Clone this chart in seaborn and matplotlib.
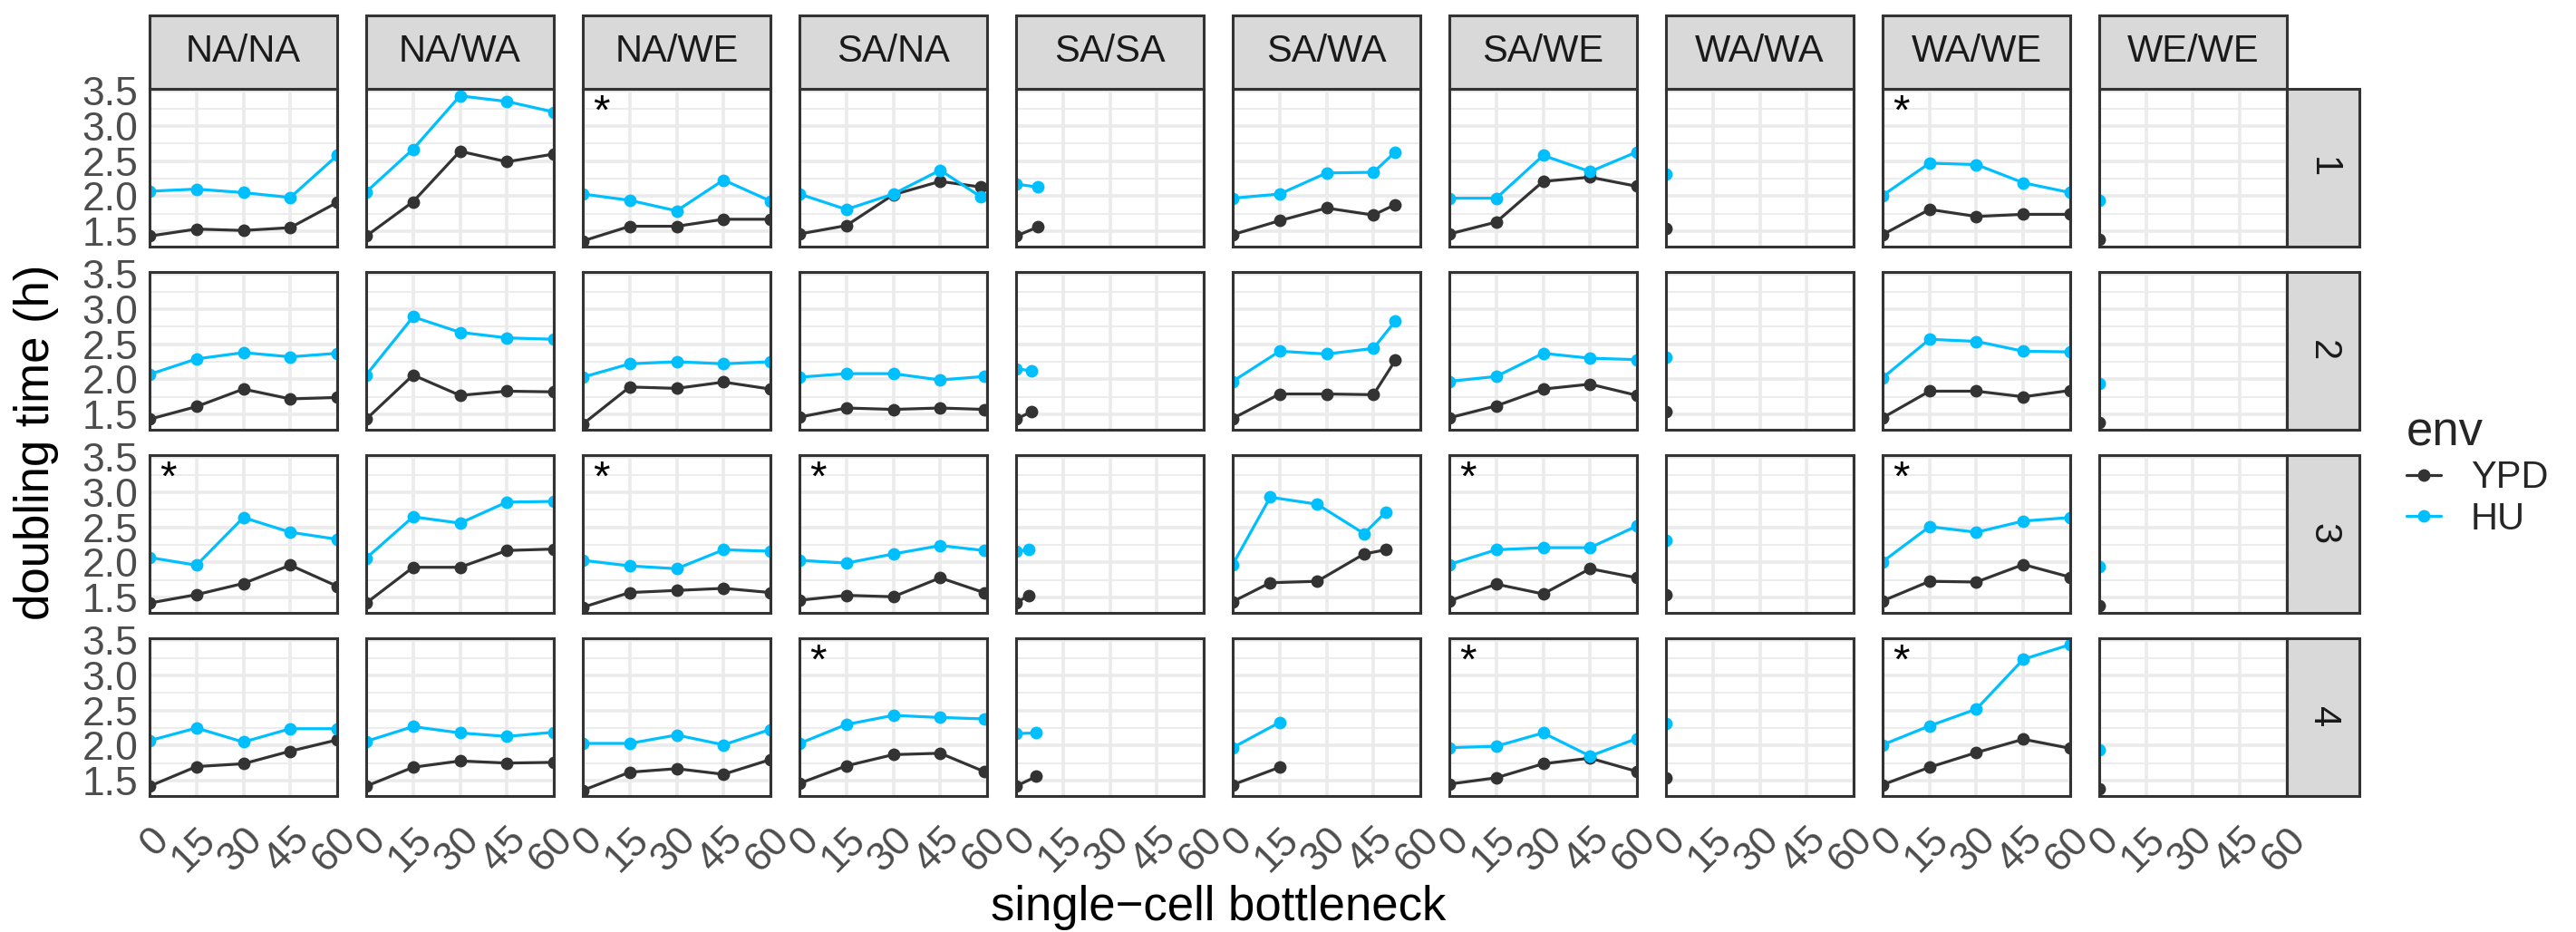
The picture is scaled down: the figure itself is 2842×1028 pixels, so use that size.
import numpy as np
import pandas as pd
import matplotlib
matplotlib.use("Agg")
import matplotlib.pyplot as plt
import seaborn as sns
from matplotlib.patches import Rectangle
from matplotlib.lines import Line2D

# crosses (columns) and replicate lines (rows)
crosses = ["NA/NA", "NA/WA", "NA/WE", "SA/NA", "SA/SA", "SA/WA", "SA/WE", "WA/WA", "WA/WE", "WE/WE"]
reps = [1, 2, 3, 4]
envs = ["YPD", "HU"]
std_x = [0, 15, 30, 45, 60]

# bottleneck position of each point, per cross and row
x_vals = {
    "NA/NA": [std_x] * 4,
    "NA/WA": [std_x] * 4,
    "NA/WE": [std_x] * 4,
    "SA/NA": [[0, 15, 30, 45, 58], [0, 15, 30, 45, 59], [0, 15, 30, 45, 59], [0, 15, 30, 45, 59]],
    "SA/SA": [[0, 7], [0, 5], [0, 4], [0, 6.5]],
    "SA/WA": [[0, 15, 30, 45, 52], [0, 15, 30, 45, 52], [0, 12, 27, 42, 49], [0, 15]],
    "SA/WE": [std_x] * 4,
    "WA/WA": [[0]] * 4,
    "WA/WE": [std_x] * 4,
    "WE/WE": [[0]] * 4,
}

ypd = {
    "NA/NA": [[1.43, 1.53, 1.51, 1.55, 1.91], [1.43, 1.61, 1.86, 1.72, 1.74],
              [1.42, 1.54, 1.70, 1.96, 1.66], [1.42, 1.70, 1.74, 1.92, 2.08]],
    "NA/WA": [[1.43, 1.92, 2.64, 2.49, 2.60], [1.43, 2.06, 1.77, 1.83, 1.82],
              [1.42, 1.93, 1.93, 2.17, 2.19], [1.42, 1.69, 1.78, 1.75, 1.76]],
    "NA/WE": [[1.36, 1.57, 1.57, 1.67, 1.67], [1.36, 1.89, 1.87, 1.96, 1.86],
              [1.36, 1.57, 1.60, 1.63, 1.57], [1.36, 1.62, 1.67, 1.59, 1.80]],
    "SA/NA": [[1.46, 1.58, 2.02, 2.21, 2.13], [1.46, 1.59, 1.57, 1.59, 1.57],
              [1.46, 1.53, 1.51, 1.78, 1.57], [1.46, 1.71, 1.87, 1.89, 1.63]],
    "SA/SA": [[1.43, 1.56], [1.43, 1.54], [1.42, 1.53], [1.42, 1.56]],
    "SA/WA": [[1.45, 1.65, 1.83, 1.73, 1.88], [1.44, 1.79, 1.79, 1.78, 2.27],
              [1.44, 1.71, 1.73, 2.12, 2.18], [1.44, 1.69]],
    "SA/WE": [[1.46, 1.63, 2.21, 2.27, 2.14], [1.45, 1.62, 1.86, 1.93, 1.77],
              [1.45, 1.69, 1.55, 1.91, 1.78], [1.45, 1.54, 1.74, 1.82, 1.63]],
    "WA/WA": [[1.54], [1.54], [1.54], [1.54]],
    "WA/WE": [[1.45, 1.81, 1.71, 1.74, 1.74], [1.45, 1.83, 1.83, 1.75, 1.84],
              [1.45, 1.73, 1.72, 1.97, 1.79], [1.44, 1.69, 1.90, 2.09, 1.96]],
    "WE/WE": [[1.38], [1.38], [1.38], [1.38]],
}

hu = {
    "NA/NA": [[2.07, 2.10, 2.05, 1.98, 2.58], [2.07, 2.29, 2.38, 2.32, 2.37],
              [2.07, 1.96, 2.64, 2.43, 2.33], [2.07, 2.25, 2.05, 2.24, 2.24]],
    "NA/WA": [[2.06, 2.67, 3.43, 3.35, 3.20], [2.06, 2.89, 2.67, 2.59, 2.57],
              [2.06, 2.65, 2.56, 2.86, 2.87], [2.06, 2.27, 2.18, 2.13, 2.19]],
    "NA/WE": [[2.03, 1.94, 1.79, 2.23, 1.93], [2.03, 2.22, 2.25, 2.22, 2.25],
              [2.03, 1.95, 1.91, 2.18, 2.16], [2.03, 2.03, 2.15, 2.01, 2.23]],
    "SA/NA": [[2.03, 1.81, 2.03, 2.37, 1.99], [2.03, 2.08, 2.08, 1.99, 2.04],
              [2.03, 1.99, 2.12, 2.24, 2.17], [2.03, 2.30, 2.43, 2.40, 2.38]],
    "SA/SA": [[2.17, 2.13], [2.15, 2.12], [2.16, 2.18], [2.17, 2.18]],
    "SA/WA": [[1.97, 2.03, 2.33, 2.34, 2.63], [1.97, 2.40, 2.36, 2.44, 2.83],
              [1.97, 2.93, 2.83, 2.41, 2.72], [1.97, 2.33]],
    "SA/WE": [[1.97, 1.97, 2.58, 2.35, 2.63], [1.97, 2.04, 2.37, 2.30, 2.28],
              [1.97, 2.18, 2.21, 2.21, 2.52], [1.97, 1.99, 2.18, 1.85, 2.10]],
    "WA/WA": [[2.31], [2.31], [2.31], [2.31]],
    "WA/WE": [[2.01, 2.47, 2.45, 2.19, 2.05], [2.02, 2.57, 2.54, 2.40, 2.39],
              [2.01, 2.51, 2.43, 2.59, 2.64], [2.01, 2.28, 2.52, 3.23, 3.44]],
    "WE/WE": [[1.94], [1.94], [1.94], [1.94]],
}

# panels marked with an asterisk
stars = [("NA/WE", 1), ("WA/WE", 1), ("NA/NA", 3), ("NA/WE", 3), ("SA/NA", 3),
         ("SA/WE", 3), ("WA/WE", 3), ("SA/NA", 4), ("SA/WE", 4), ("WA/WE", 4)]

rows = []
for c in crosses:
    for i, r in enumerate(reps):
        for env, src in (("YPD", ypd), ("HU", hu)):
            for xv, yv in zip(x_vals[c][i], src[c][i]):
                rows.append((c, r, env, xv, yv))
df = pd.DataFrame(rows, columns=["cross", "rep", "env", "bottleneck", "doubling"])

sns.set_theme(style="white")
plt.rcParams["font.family"] = ["Liberation Sans", "DejaVu Sans"]

W, H = 2842, 1028
pal = {"YPD": "#333333", "HU": "#00BFFF"}
dark = "#333333"

fig, axes = plt.subplots(4, 10, figsize=(W / 100, H / 100), dpi=100, sharex=True, sharey=True)
fig.subplots_adjust(left=165 / W, right=2523 / W, top=1 - 98 / H, bottom=1 - 878 / H,
                    wspace=32 / 207, hspace=28 / 174)

for i, r in enumerate(reps):
    for j, c in enumerate(crosses):
        ax = axes[i, j]
        sub = df[(df.cross == c) & (df.rep == r)]
        sns.lineplot(data=sub, x="bottleneck", y="doubling", hue="env", hue_order=envs,
                     palette=pal, marker="o", markersize=10, markeredgewidth=0,
                     linewidth=2.3, estimator=None, legend=False, ax=ax)
        ax.set_xlim(0, 60)
        ax.set_ylim(1.28, 3.53)
        ax.set_xticks(std_x)
        ax.set_yticks([1.5, 2.0, 2.5, 3.0, 3.5])
        ax.set_yticks([1.75, 2.25, 2.75, 3.25], minor=True)
        ax.grid(True, which="major", color="#EBEBEB", linewidth=2.6)
        ax.grid(True, which="minor", axis="y", color="#EBEBEB", linewidth=1.3)
        ax.set_axisbelow(True)
        ax.set_xlabel("")
        ax.set_ylabel("")
        for s in ax.spines.values():
            s.set_color(dark)
            s.set_linewidth(2.2)
        ax.tick_params(which="minor", length=0)
        ax.tick_params(axis="both", which="major", length=6, width=2.2, color=dark,
                       labelsize=32, labelcolor="#4D4D4D", pad=3)
        ax.tick_params(axis="x", pad=14)
        if j != 0:
            ax.tick_params(axis="y", length=0)
        if i != 3:
            ax.tick_params(axis="x", length=0)
        if (c, r) in stars:
            ax.text(6, 3.18, "*", fontsize=34, color="black", ha="center", va="center")
        if i == 0:
            ax.add_patch(Rectangle((0, 1), 1, 81 / 174, transform=ax.transAxes, clip_on=False,
                                   facecolor="#D9D9D9", edgecolor=dark, linewidth=2.2))
            ax.text(0.5, 1 + 40.5 / 174, c, transform=ax.transAxes, ha="center", va="center",
                    fontsize=30, color="#1A1A1A")
        if j == len(crosses) - 1:
            ax.add_patch(Rectangle((1, 0), 80 / 207, 1, transform=ax.transAxes, clip_on=False,
                                   facecolor="#D9D9D9", edgecolor=dark, linewidth=2.2))
            ax.text(1 + 40 / 207, 0.5, str(r), transform=ax.transAxes, ha="center", va="center",
                    rotation=-90, fontsize=30, color="#1A1A1A")

for ax in axes[3]:
    for lab in ax.get_xticklabels():
        lab.set_rotation(45)
        lab.set_ha("right")
        lab.set_va("top")
        lab.set_rotation_mode("anchor")

fig.text(40 / W, 1 - 488 / H, "doubling time (h)", rotation=90, ha="center", va="center",
         fontsize=38, color="black")
fig.text(1344 / W, 1 - 1015 / H, "single\u2212cell bottleneck", ha="center", va="baseline",
         fontsize=38, color="black")

handles = [Line2D([], [], color=pal[e], marker="o", markersize=10, markeredgewidth=0,
                  linewidth=2.3) for e in envs]
fig.legend(handles, envs, title="env", loc="upper left", bbox_to_anchor=(2655 / W, 1 - 452 / H),
           frameon=False, fontsize=30, title_fontsize=38, handlelength=0.9,
           alignment="left", labelspacing=0.13, handletextpad=0.8,
           borderpad=0, borderaxespad=0)

fig.savefig("out.png", dpi=100)
